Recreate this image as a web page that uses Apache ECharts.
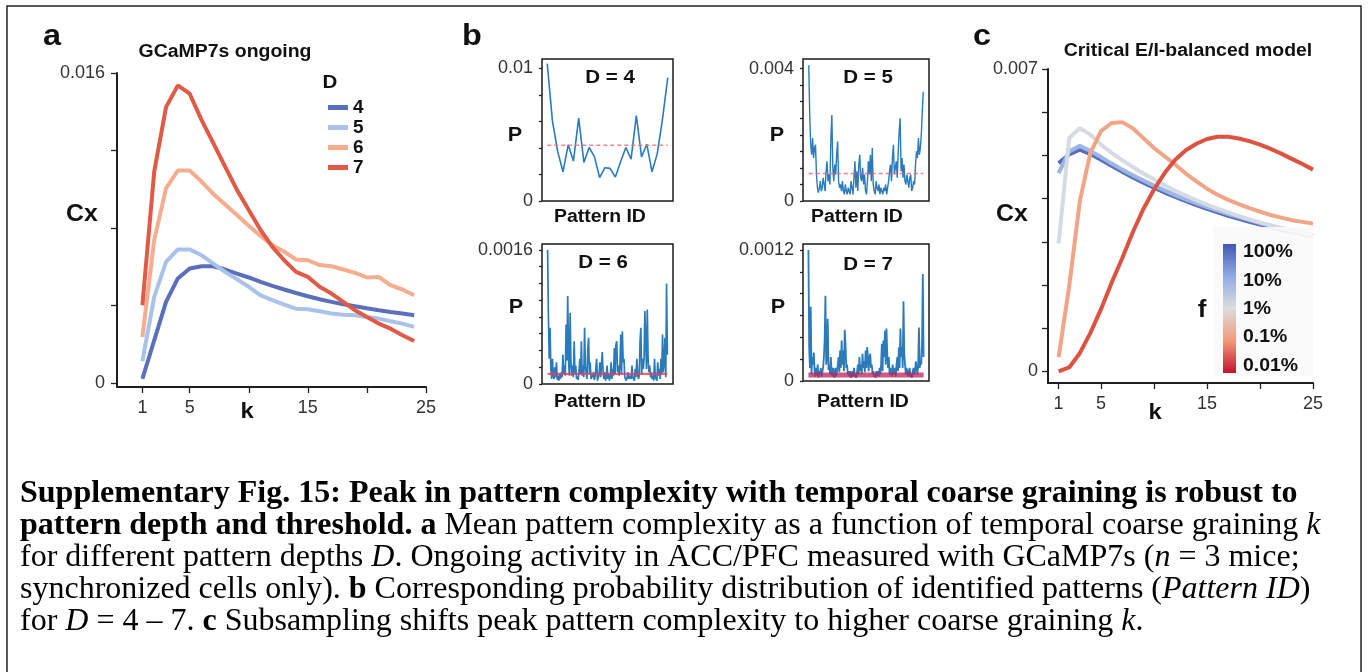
<!DOCTYPE html>
<html><head><meta charset="utf-8">
<script src="https://cdn.jsdelivr.net/npm/echarts@6/dist/echarts.min.js"></script>
<style>html,body{margin:0;padding:0;background:#fff}#c{width:1369px;height:672px}</style>
</head><body><div id="c"></div>
<script>
// ---------- Panel a : GCaMP7s ongoing ----------
const kA = [1,2,3,4,5,6,7,8,9,10,11,12,13,14,15,16,17,18,19,20,21,22,23,24];
const cxD4 = [0.00022,0.00221,0.00419,0.0054,0.00591,0.00603,0.00603,0.00586,0.00565,0.00545,0.00522,0.00502,0.00483,0.00465,0.00448,0.00433,0.00419,0.00407,0.00397,0.00386,0.00376,0.00367,0.00359,0.0035];
const cxD5 = [0.00114,0.00445,0.00626,0.0069,0.0069,0.0066,0.00617,0.00574,0.00536,0.00497,0.00453,0.00428,0.00405,0.00384,0.00381,0.00371,0.00359,0.00353,0.0035,0.00341,0.00333,0.00319,0.00307,0.0029];
const cxD6 = [0.00238,0.00738,0.01005,0.01097,0.01097,0.0104,0.00976,0.00922,0.00867,0.00812,0.00759,0.00712,0.00678,0.00638,0.00634,0.00609,0.00603,0.00586,0.00569,0.00545,0.00548,0.00505,0.00483,0.00453];
const cxD7 = [0.00402,0.01091,0.01424,0.01536,0.01493,0.01358,0.01238,0.01117,0.00997,0.00893,0.0079,0.00703,0.00634,0.00574,0.00548,0.00497,0.00462,0.00419,0.00376,0.00341,0.00307,0.00281,0.00247,0.00217];
const depthNames = ['4','5','6','7'];
const kTicks = [1,5,10,15,20,25];
const kLabels = [1,5,15,25];
const yTicksA = [0,0.004,0.008,0.012,0.016];
const yLabelsA = [0,0.016];

// ---------- Panel b : pattern probability distributions ----------
const pD4 = [0.01035,0.006,0.00372,0.0022,0.00423,0.00301,0.00625,0.00291,0.00403,0.00334,0.00177,0.00251,0.00246,0.0018,0.00296,0.00403,0.00316,0.00643,0.00332,0.00428,0.0022,0.00357,0.00618,0.00929];
const pD5 = [0.0041,0.0026,0.0017,0.0014,0.0019,0.0013,0.0016,0.0017,0.0008,0.0004,
0.00025,0.0004,0.0006,0.0003,0.0004,0.0007,0.0005,0.0003,0.0009,0.0012,
0.0006,0.0008,0.0005,0.0019,0.0026,0.001,0.0006,0.0011,0.0008,0.0014,
0.0018,0.0006,0.0004,0.0005,0.0003,0.0006,0.0003,0.0002,0.0005,0.0003,
0.0002,0.0004,0.0003,0.0002,0.0006,0.0004,0.0002,0.0007,0.0012,0.0004,
0.0009,0.0003,0.0011,0.0014,0.0007,0.0006,0.001,0.0005,0.0008,0.0003,
0.0002,0.0006,0.0012,0.0008,0.0014,0.0006,0.0016,0.0005,0.0003,0.0002,
0.0006,0.0004,0.0003,0.0005,0.0002,0.0004,0.0003,0.0002,0.0004,0.0003,
0.0005,0.0002,0.0004,0.0006,0.0009,0.0011,0.0006,0.0013,0.0017,0.0008,
0.001,0.0012,0.0007,0.0015,0.0021,0.0025,0.0009,0.0013,0.0007,0.0011,
0.0006,0.0005,0.0008,0.0006,0.0004,0.0007,0.0008,0.0003,0.0004,0.0006,
0.0005,0.0011,0.0015,0.0013,0.0019,0.0014,0.0016,0.002,0.0027,0.0033];
const pD6 = [0.0016,0.0008,0.0003,0.00067,0.00018,0.00006,0.0003,0.0001,0.00006,0.0002,
0.00008,0.00026,0.00005,0.0001,0.00004,0.00012,0.00006,0.00014,0.00008,0.00035,
0.00012,0.00022,0.0001,0.00071,0.00028,0.00105,0.0003,0.0001,0.00085,0.00026,
0.0001,0.00022,0.00008,0.00051,0.00012,0.00022,0.00006,0.00009,0.00005,0.00014,
0.0003,0.00012,0.00051,0.0001,0.00022,0.00008,0.00067,0.0002,0.00022,0.00006,
0.00043,0.00055,0.00012,0.00026,0.00006,0.00004,0.0001,0.00014,0.00005,0.00008,
0.00006,0.0003,0.00004,0.00006,0.00012,0.00026,0.00008,0.0001,0.00038,0.00014,
0.00006,0.00014,0.00004,0.00008,0.00022,0.00006,0.00012,0.00004,0.0001,0.00026,
0.00006,0.00018,0.0001,0.00043,0.00012,0.00047,0.00051,0.00014,0.00022,0.0001,
0.00022,0.00059,0.00012,0.00063,0.00026,0.0003,0.00008,0.0001,0.00004,0.00006,
0.00014,0.00006,0.00004,0.0001,0.00006,0.00022,0.00008,0.00006,0.00004,0.00018,
0.00008,0.0003,0.00012,0.00006,0.0001,0.00051,0.00067,0.00012,0.0003,0.00018,
0.0003,0.00087,0.00051,0.00018,0.00089,0.0003,0.00014,0.00022,0.00008,0.00014,
0.00006,0.0001,0.00004,0.0003,0.00008,0.00006,0.00004,0.00026,0.0001,0.00018,
0.00006,0.0003,0.00012,0.00059,0.00014,0.00026,0.00055,0.00008,0.0012,0.00035];
const pD7 = [0.0012,0.0003,0.00012,0.00068,0.00006,0.00022,0.00015,0.00026,0.00009,0.00004,
0.00012,0.00005,0.00015,0.00003,0.00009,0.00006,0.00012,0.00004,0.00008,0.00012,
0.00022,0.00037,0.00078,0.00015,0.00022,0.00057,0.0001,0.00015,0.00006,0.00022,
0.00009,0.00004,0.00012,0.00006,0.00003,0.00012,0.00005,0.00009,0.00015,0.00022,
0.00008,0.00028,0.00012,0.00037,0.00015,0.00028,0.00009,0.00047,0.00034,0.00012,
0.00015,0.00006,0.00009,0.00004,0.00009,0.00003,0.00006,0.00009,0.00004,0.00012,
0.00005,0.00006,0.00003,0.00009,0.00015,0.00006,0.00022,0.00009,0.00015,0.00006,
0.00025,0.00012,0.00018,0.00008,0.00028,0.00012,0.00031,0.00022,0.00009,0.00022,
0.00025,0.00012,0.00015,0.00006,0.00009,0.00004,0.00006,0.00003,0.00009,0.00005,
0.00009,0.00004,0.00012,0.00006,0.00015,0.00034,0.00009,0.00037,0.00022,0.00046,
0.00015,0.00048,0.00025,0.00012,0.00022,0.00006,0.00012,0.00009,0.00004,0.00015,
0.00006,0.00009,0.00012,0.00004,0.00015,0.00022,0.00009,0.00031,0.00012,0.00048,
0.00022,0.00031,0.00012,0.00073,0.00025,0.00015,0.00006,0.00012,0.00009,0.00004,
0.00009,0.00012,0.00004,0.00006,0.00003,0.00009,0.00012,0.00006,0.00009,0.00018,
0.00012,0.00006,0.00015,0.00049,0.00012,0.00018,0.00015,0.00035,0.00098,0.00022];
const refP = [0.0042,0.00083,0.00012,0.000055];
const yTicksB4 = [0,0.002,0.004,0.006,0.008,0.01];
const yLabelsB4 = [0,0.01];
const yTicksB5 = [0,0.0005,0.001,0.0015,0.002,0.0025,0.003,0.0035,0.004];
const yLabelsB5 = [0,0.004];
const yTicksB6 = [0,0.0002,0.0004,0.0006,0.0008,0.001,0.0012,0.0014,0.0016];
const yLabelsB6 = [0,0.0016];
const yTicksB7 = [0,0.0002,0.0004,0.0006,0.0008,0.001,0.0012];
const yLabelsB7 = [0,0.0012];

// ---------- Panel c : Critical E/I-balanced model ----------
const kC = [1,2,3,4,5,6,7,8,9,10,11,12,13,14,15,16,17,18,19,20,21,22,23,24,25];
const cF100 = [0.00482,0.00502,0.00513,0.00503,0.0049,0.00476,0.00462,0.00449,0.00437,0.00425,0.00414,0.00404,0.00394,0.00385,0.00376,0.00368,0.0036,0.00353,0.00346,0.0034,0.00334,0.00328,0.00323,0.00318,0.00313];
const cF10 = [0.00459,0.00509,0.00522,0.0051,0.00496,0.00481,0.00467,0.00454,0.00442,0.0043,0.00419,0.00408,0.00398,0.00389,0.0038,0.00372,0.00364,0.00357,0.0035,0.00343,0.00337,0.00331,0.00326,0.00321,0.00316];
const cF1 = [0.00296,0.0054,0.00563,0.00548,0.00525,0.00506,0.00489,0.00473,0.00458,0.00444,0.00431,0.00418,0.00407,0.00396,0.00386,0.00377,0.00368,0.0036,0.00352,0.00345,0.00338,0.00332,0.00326,0.00321,0.00316];
const cF01 = [0.00033,0.00197,0.00394,0.00506,0.00556,0.00575,0.00577,0.00563,0.0054,0.00517,0.00498,0.00479,0.00458,0.0044,0.00423,0.00409,0.00397,0.00387,0.00378,0.0037,0.00362,0.00356,0.0035,0.00346,0.00342];
const cF001 = [0,0.00009,0.00042,0.00089,0.00144,0.00205,0.00262,0.00322,0.00376,0.00421,0.00459,0.0049,0.00512,0.00527,0.00538,0.00543,0.00543,0.00539,0.00533,0.00525,0.00515,0.00504,0.00492,0.0048,0.00467];
const fNames = ['100%','10%','1%','0.1%','0.01%'];
const yTicksC = [0,0.001,0.002,0.003,0.004,0.005,0.006,0.007];
const yLabelsC = [0,0.007];

// ---------- caption text ----------
const captionLines = [
  '{b|Supplementary Fig. 15: Peak in pattern complexity with temporal coarse graining is robust to}',
  '{b|pattern depth and threshold. a}{n| Mean pattern complexity as a function of temporal coarse graining }{i|k}',
  '{n|for different pattern depths }{i|D}{n|. Ongoing activity in ACC/PFC measured with GCaMP7s (}{i|n}{n| = 3 mice;}',
  '{n|synchronized cells only). }{b|b}{n| Corresponding probability distribution of identified patterns (}{i|Pattern ID}{n|)}',
  '{n|for }{i|D}{n| = 4 – 7. }{b|c}{n| Subsampling shifts peak pattern complexity to higher coarse graining }{i|k}{n|.}'
];

// ---------- styling ----------
const SANS = 'Liberation Sans, Arial, sans-serif';
const SERIF = 'Liberation Serif, Times New Roman, serif';
const colA = ['#5a70bd','#a8c2e9','#f5ad8e','#e05a45'];
const colC = ['#566ebb','#9db6e3','#d5dbe4','#f2a487','#dc5441'];
const BLUE = '#2b7bba';
const SX = 1.08;

const chart = echarts.init(document.getElementById('c'), null, {renderer:'canvas'});

function xyAxis(kind, gi, min, max, ticks, labels, opt) {
  opt = opt || {};
  return {
    type:'value', gridIndex:gi, min:min, max:max,
    axisLine:{show: opt.line !== false, onZero:false, lineStyle:{color:'#1e1e1e', width:opt.lw || 2}},
    axisTick:{show: !!ticks, customValues: ticks || [], length: opt.tl || 6, lineStyle:{color:'#222', width:1.3}},
    axisLabel:{show: !!labels, customValues: labels || [], fontSize: opt.fs || 18, color:'#333', fontFamily:SANS, margin: opt.margin || 10},
    splitLine:{show:false}
  };
}
function pairs(xs, ys){ return ys.map((v,i)=>[xs[i], v]); }
function idx(ys){ return ys.map((v,i)=>[i+1, v]); }

const grids = [
  {left:117, top:73, width:309, height:314},
  {left:542, top:59, width:131, height:142, show:true, borderColor:'#1a1a1a', borderWidth:1.5, backgroundColor:'transparent'},
  {left:803, top:59, width:126, height:142, show:true, borderColor:'#1a1a1a', borderWidth:1.5, backgroundColor:'transparent'},
  {left:542, top:244, width:131, height:140, show:true, borderColor:'#1a1a1a', borderWidth:1.5, backgroundColor:'transparent'},
  {left:803, top:244, width:126, height:137, show:true, borderColor:'#1a1a1a', borderWidth:1.5, backgroundColor:'transparent'},
  {left:1048, top:69, width:265, height:314}
];

const xAxes = [
  xyAxis('x',0,-1.15,25,kTicks,kLabels,{margin:12}),
  xyAxis('x',1,0,25,null,null,{line:false}),
  xyAxis('x',2,-5,126,null,null,{line:false}),
  xyAxis('x',3,-6,157,null,null,{line:false}),
  xyAxis('x',4,-6,157,null,null,{line:false}),
  xyAxis('x',5,0,25,kTicks,kLabels,{margin:12})
];
const yAxes = [
  xyAxis('y',0,-0.0002,0.016,yTicksA,yLabelsA,{margin:12}),
  xyAxis('y',1,0,0.0107,yTicksB4,yLabelsB4,{line:false, tl:3, margin:9}),
  xyAxis('y',2,0,0.00429,yTicksB5,yLabelsB5,{line:false, tl:3, margin:9}),
  xyAxis('y',3,0,0.00167,yTicksB6,yLabelsB6,{line:false, tl:3, margin:9}),
  xyAxis('y',4,0,0.001255,yTicksB7,yLabelsB7,{line:false, tl:3, margin:9}),
  xyAxis('y',5,-0.00027,0.007,yTicksC,yLabelsC,{margin:10})
];

const series = [];
[cxD4,cxD5,cxD6,cxD7].forEach((arr,i)=>{
  series.push({type:'line', name:depthNames[i], xAxisIndex:0, yAxisIndex:0, data:pairs(kA,arr),
    showSymbol:false, color:colA[i], lineStyle:{width:4, color:colA[i]}, z:2+i});
});
const bWidths = [1.6, 1.4, 1.7, 1.8];
[pD4,pD5,pD6,pD7].forEach((arr,i)=>{
  series.push({type:'line', name:'P'+(i+4), xAxisIndex:i+1, yAxisIndex:i+1, data:idx(arr),
    showSymbol:false, sampling:null, color:BLUE, lineStyle:{width:bWidths[i], color:BLUE}, z:3});
});
const refStyles = [
  {width:1.5, type:[4,3], color:'rgba(255,110,110,0.85)'},
  {width:1.5, type:[4,3], color:'rgba(255,100,110,0.85)'},
  {width:2.2, type:'solid', color:'rgba(235,60,90,0.8)'},
  {width:5, type:'solid', color:'rgba(190,35,90,0.75)'}
];
[pD4,pD5,pD6,pD7].forEach((arr,i)=>{
  series.push({type:'line', name:'ref'+(i+4), xAxisIndex:i+1, yAxisIndex:i+1,
    data:[[1,refP[i]],[arr.length,refP[i]]], showSymbol:false, color:refStyles[i].color,
    lineStyle:refStyles[i], z:4});
});
[cF100,cF10,cF1,cF01,cF001].forEach((arr,i)=>{
  series.push({type:'line', name:fNames[i], xAxisIndex:5, yAxisIndex:5, data:pairs(kC,arr),
    showSymbol:false, color:colC[i], lineStyle:{width:4, color:colC[i]}, z:2+i});
});

function T(x, y, text, size, extra, sx) {
  return {type:'text', x:x, y:y, z:100, scaleX: sx || SX,
    style: Object.assign({text:text, fontSize:size, fontWeight:'bold', fontFamily:SANS, fill:'#111',
      align:'center', verticalAlign:'middle'}, extra || {})};
}

const graphic = [
  {type:'rect', shape:{x:7, y:6, width:1354, height:720}, style:{fill:'none', stroke:'#222', lineWidth:1.5}, z:0},
  T(43, 37, 'a', 30, {align:'left'}), T(462, 37, 'b', 30, {align:'left'}), T(973, 37, 'c', 30, {align:'left'}),
  T(225, 52, 'GCaMP7s ongoing', 18), T(1188, 51, 'Critical E/I-balanced model', 18),
  T(82, 215, 'Cx', 23), T(1012, 215, 'Cx', 23),
  T(247, 412, 'k', 22), T(1155, 413, 'k', 22),
  T(330, 83, 'D', 19),
  T(610, 78, 'D = 4', 19), T(868, 78, 'D = 5', 19), T(603, 263, 'D = 6', 19), T(868, 265, 'D = 7', 19),
  T(515, 135, 'P', 20), T(777, 135, 'P', 20), T(516, 307, 'P', 20), T(778, 307, 'P', 20),
  T(600, 217, 'Pattern ID', 18), T(857, 217, 'Pattern ID', 18), T(600, 402, 'Pattern ID', 18), T(863, 402, 'Pattern ID', 18),
  {type:'rect', shape:{x:1213, y:227, width:100, height:149}, style:{fill:'rgba(250,250,250,0.92)'}, z:90},
  {type:'rect', shape:{x:1223, y:244, width:13, height:129}, z:95,
    style:{fill:new echarts.graphic.LinearGradient(0,0,0,1,[
      {offset:0,color:'#4358b0'},{offset:0.25,color:'#8fabe6'},{offset:0.5,color:'#dcdcdc'},
      {offset:0.75,color:'#f19a7c'},{offset:1,color:'#c4112e'}])}},
  T(1202, 310, 'f', 24),
  T(1243, 252, '100%', 18, {align:'left'}), T(1243, 281, '10%', 18, {align:'left'}),
  T(1243, 309, '1%', 18, {align:'left'}), T(1243, 337, '0.1%', 18, {align:'left'}),
  T(1243, 366, '0.01%', 18, {align:'left'})
];

// ---- caption ----
const CF = 32;
const captionY = [494, 526, 558, 590, 622];
const rich = {
  n:{fontSize:CF, fontFamily:SERIF, fontWeight:'normal', fontStyle:'normal', fill:'#000', color:'#000'},
  b:{fontSize:CF, fontFamily:SERIF, fontWeight:'bold', fontStyle:'normal', fill:'#000', color:'#000'},
  i:{fontSize:CF, fontFamily:SERIF, fontWeight:'normal', fontStyle:'italic', fill:'#000', color:'#000'}
};
captionLines.forEach((s,i)=>{
  graphic.push({type:'text', x:20, y:captionY[i], z:100,
    style:{text:s, rich:rich, fontSize:CF, fontFamily:SERIF, fill:'#000', align:'left', verticalAlign:'middle'}});
});

chart.setOption({
  animation:false,
  backgroundColor:'#fff',
  grid:grids, xAxis:xAxes, yAxis:yAxes, series:series,
  legend:{data:depthNames, orient:'vertical', left:323, top:93, itemWidth:20, itemHeight:5, itemGap:1,
    icon:'rect', selectedMode:false,
    textStyle:{fontSize:19, fontWeight:'bold', fontFamily:SANS, color:'#111', lineHeight:18}},
  graphic:graphic
});
</script></body></html>
